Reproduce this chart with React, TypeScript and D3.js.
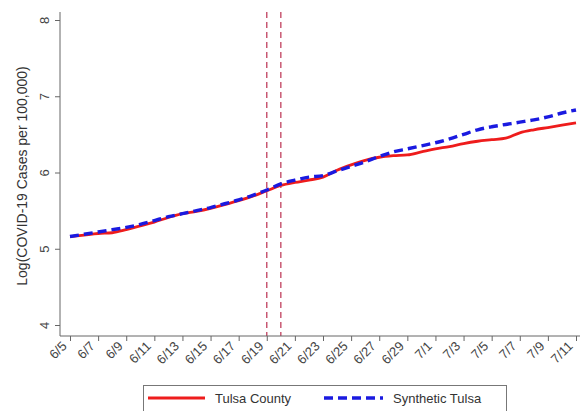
import React, { useRef, useEffect } from 'react';
import * as d3 from 'd3';

const startDate = new Date(2020, 5, 5);
const dayCount = 37;
const dates: Date[] = d3.range(dayCount).map(i => d3.timeDay.offset(startDate, i));

const tulsaCounty: number[] = [
  5.16, 5.18, 5.2, 5.21, 5.25, 5.3, 5.35, 5.41, 5.46, 5.49,
  5.53, 5.58, 5.63, 5.69, 5.76, 5.83, 5.87, 5.9, 5.94, 6.03,
  6.1, 6.16, 6.2, 6.22, 6.23, 6.27, 6.31, 6.34, 6.38, 6.41,
  6.43, 6.45, 6.52, 6.56, 6.59, 6.62, 6.65,
];

const syntheticTulsa: number[] = [
  5.16, 5.19, 5.22, 5.25, 5.28, 5.32, 5.37, 5.42, 5.46, 5.5,
  5.54, 5.59, 5.64, 5.7, 5.77, 5.85, 5.9, 5.94, 5.96, 6.02,
  6.08, 6.14, 6.21, 6.27, 6.31, 6.35, 6.39, 6.44, 6.5, 6.56,
  6.6, 6.63, 6.66, 6.69, 6.73, 6.78, 6.82,
];

const yTicks = [4, 5, 6, 7, 8];
const xTickDates = dates.filter((_, i) => i % 2 === 0);
const treatmentDates = [new Date(2020, 5, 19), new Date(2020, 5, 20)];

const W = 580;
const H = 411;
const FONT = '"Liberation Sans", Arial, sans-serif';

export default function App() {
  const svgRef = useRef<SVGSVGElement | null>(null);

  useEffect(() => {
    if (!svgRef.current) return;
    const svg = d3.select(svgRef.current);
    svg.selectAll('*').remove();

    const x = d3.scaleTime().domain([dates[0], dates[dates.length - 1]]).range([70, 576]);
    const y = d3.scaleLinear().domain([4, 8]).range([325, 20]);
    const axisLeftX = 60;
    const axisBottomY = 336;
    const plotTop = 12;

    // vertical reference lines
    svg.append('g')
      .selectAll('line')
      .data(treatmentDates)
      .join('line')
      .attr('x1', d => x(d))
      .attr('x2', d => x(d))
      .attr('y1', plotTop)
      .attr('y2', axisBottomY)
      .attr('stroke', '#c0405e')
      .attr('stroke-width', 1.3)
      .attr('stroke-dasharray', '6,4');

    // y axis
    const gy = svg.append('g')
      .attr('transform', `translate(${axisLeftX},0)`)
      .call(d3.axisLeft(y).tickValues(yTicks).tickSize(5).tickFormat(d3.format('d')));
    gy.select('.domain').remove();
    gy.selectAll('.tick line').attr('stroke', '#666');
    gy.selectAll('.tick text')
      .attr('font-family', FONT)
      .attr('font-size', 13)
      .attr('fill', '#444')
      .attr('x', null)
      .attr('dy', null)
      .attr('text-anchor', 'middle')
      .attr('transform', 'translate(-15,0) rotate(-90)')
      .attr('y', 4);

    svg.append('line')
      .attr('x1', axisLeftX).attr('x2', axisLeftX)
      .attr('y1', plotTop).attr('y2', axisBottomY)
      .attr('stroke', '#666');

    // x axis
    const gx = svg.append('g')
      .attr('transform', `translate(0,${axisBottomY})`)
      .call(d3.axisBottom(x).tickValues(xTickDates).tickSize(5)
        .tickFormat(d => d3.timeFormat('%-m/%-d')(d as Date)));
    gx.select('.domain').remove();
    gx.selectAll('.tick line').attr('stroke', '#666');
    gx.selectAll('.tick text')
      .attr('font-family', FONT)
      .attr('font-size', 13)
      .attr('fill', '#444')
      .attr('y', null)
      .attr('dy', null)
      .attr('text-anchor', 'end')
      .attr('transform', 'translate(-3,11) rotate(-45)');

    svg.append('line')
      .attr('x1', axisLeftX).attr('x2', W)
      .attr('y1', axisBottomY).attr('y2', axisBottomY)
      .attr('stroke', '#666');

    // y label
    svg.append('text')
      .attr('transform', `translate(27,${(plotTop + axisBottomY) / 2 + 2}) rotate(-90)`)
      .attr('text-anchor', 'middle')
      .attr('font-family', FONT)
      .attr('font-size', 14)
      .attr('fill', '#333')
      .text('Log(COVID-19 Cases per 100,000)');

    const line = d3.line<number>()
      .x((_, i) => x(dates[i]))
      .y(d => y(d))
      .curve(d3.curveMonotoneX);

    svg.append('path')
      .datum(tulsaCounty)
      .attr('d', line)
      .attr('fill', 'none')
      .attr('stroke', '#ee1c1c')
      .attr('stroke-width', 2.8);

    svg.append('path')
      .datum(syntheticTulsa)
      .attr('d', line)
      .attr('fill', 'none')
      .attr('stroke', '#1a1ae0')
      .attr('stroke-width', 3.4)
      .attr('stroke-dasharray', '9,5');

    // legend
    const lg = svg.append('g');
    lg.append('rect')
      .attr('x', 143.5).attr('y', 385.5)
      .attr('width', 363).attr('height', 40)
      .attr('fill', 'white')
      .attr('stroke', '#777');
    lg.append('line')
      .attr('x1', 148).attr('x2', 205).attr('y1', 398).attr('y2', 398)
      .attr('stroke', '#ee1c1c').attr('stroke-width', 2.8);
    lg.append('text')
      .attr('x', 215).attr('y', 403)
      .attr('font-family', FONT).attr('font-size', 13).attr('fill', '#333')
      .text('Tulsa County');
    lg.append('line')
      .attr('x1', 324).attr('x2', 383).attr('y1', 398).attr('y2', 398)
      .attr('stroke', '#1a1ae0').attr('stroke-width', 3.4)
      .attr('stroke-dasharray', '9,5');
    lg.append('text')
      .attr('x', 393).attr('y', 403)
      .attr('font-family', FONT).attr('font-size', 13).attr('fill', '#333')
      .text('Synthetic Tulsa');
  }, []);

  return (
    <svg
      ref={svgRef}
      width={W}
      height={H}
      style={{ position: 'absolute', left: 0, top: 0, background: 'white' }}
    />
  );
}
